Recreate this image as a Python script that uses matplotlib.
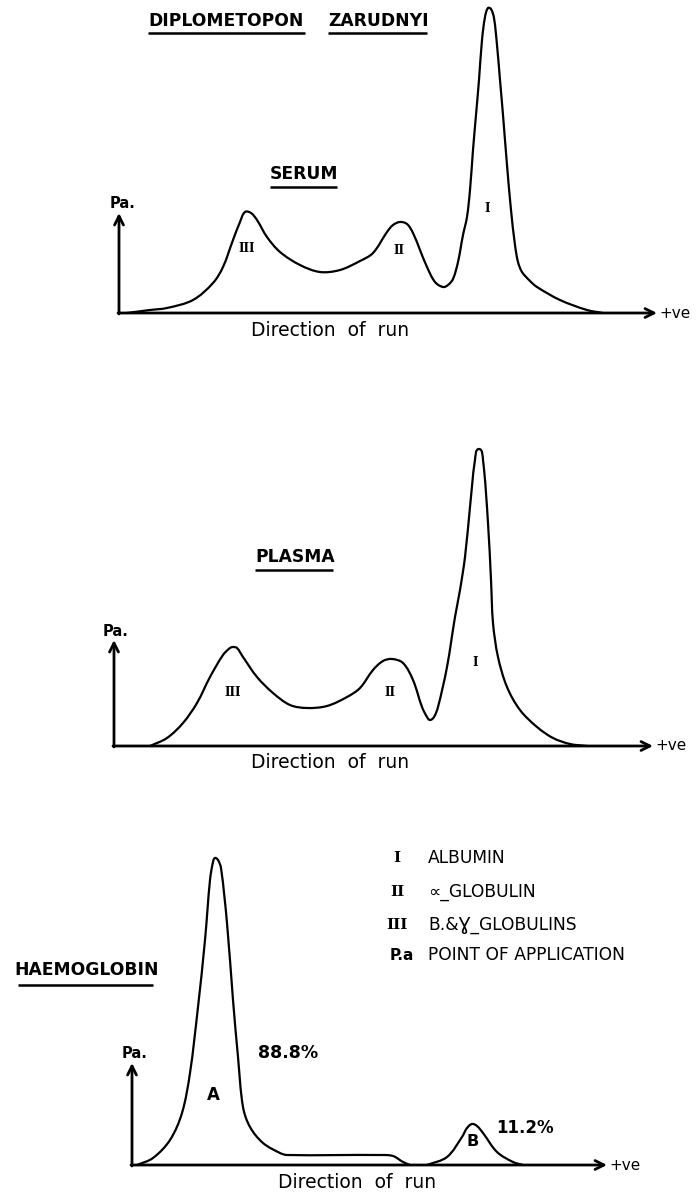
import numpy as np
import matplotlib.pyplot as plt
from matplotlib.path import Path
from matplotlib.patches import PathPatch

W, H = 698, 1194

# traces: migration distance from point of application, height above baseline
serum_x = [8, 31, 48, 74, 94, 104, 114, 121, 126, 132, 138, 148, 161, 181, 201,
           221, 241, 254, 268, 274, 281, 288, 294, 301, 308, 316, 324, 329, 334,
           339, 344, 348, 351, 354, 357, 360, 363, 366, 369, 372, 375, 378, 381,
           384, 388, 392, 396, 399, 403, 411, 418, 441, 468, 484]
serum_y = [0, 3, 5, 13, 30, 46, 73, 91, 101, 100, 93, 76, 61, 48, 41,
           43, 52, 60, 81, 88, 91, 89, 80, 63, 46, 31, 26, 28, 34,
           51, 78, 96, 123, 163, 198, 233, 273, 296, 305, 304, 295, 268, 233,
           198, 148, 103, 68, 51, 41, 32, 26, 13, 3, 0]

plasma_x = [36, 53, 69, 83, 96, 109, 116, 119, 123, 129, 143, 159, 176, 193, 213,
            233, 246, 259, 269, 278, 289, 299, 308, 313, 316, 320, 324, 333, 341,
            346, 351, 356, 361, 365, 369, 374, 377, 379, 384, 393, 406, 423, 439,
            456, 473]
plasma_y = [0, 8, 23, 43, 69, 91, 98, 99, 98, 89, 69, 53, 41, 38, 40,
            49, 58, 76, 85, 87, 83, 66, 39, 29, 26, 29, 39, 79, 129,
            156, 189, 239, 286, 297, 286, 223, 166, 123, 89, 59, 36, 19, 8,
            2, 0]

haem_a_x = [5, 21, 38, 50, 58, 66, 73, 78, 81, 83, 86, 89, 95, 101, 106, 111,
            118, 131, 148, 155, 248, 261, 271, 278]
haem_a_y = [0, 7, 25, 52, 92, 158, 225, 285, 303, 307, 305, 297, 242, 165, 108, 58,
            38, 22, 12, 10, 10, 9, 3, 0]
haem_b_x = [295, 315, 330, 335, 340, 345, 351, 365, 381, 391]
haem_b_y = [0, 8, 28, 37, 41, 39, 32, 13, 3, 0]

serum_labels = [("III", 128, 65), ("II", 280, 63), ("I", 368, 105)]
plasma_labels = [("III", 119, 54), ("II", 276, 54), ("I", 361, 83)]

legend_keys = ["I", "II", "III", "P.a"]
legend_text = ["ALBUMIN", "\u221d_GLOBULIN", "B.&\u0194_GLOBULINS", "POINT OF APPLICATION"]

plt.rcParams['font.family'] = ['DejaVu Sans']

fig = plt.figure(figsize=(W / 100, H / 100), dpi=100)

# page axes in picture pixels for titles and legend
ax0 = fig.add_axes([0, 0, 1, 1])
ax0.set_xlim(0, W)
ax0.set_ylim(H, 0)
ax0.axis('off')


def underline(x0, x1, y):
    ax0.plot([x0, x1], [y, y], color='black', lw=1.8, solid_capstyle='butt')


def panel(top, bottom, ox, oy):
    ax = fig.add_axes([0, 1 - bottom / H, 1, (bottom - top) / H])
    ax.set_xlim(-ox, W - ox)
    ax.set_ylim(oy - bottom, oy - top)
    ax.axis('off')
    return ax


def unit(v):
    n = np.hypot(*v)
    return v / n if n > 0 else v


def trace(ax, xs, ys):
    # smooth pen line through the read points, bezier handles a third of each segment
    p = np.column_stack([xs, ys]).astype(float)
    q = np.vstack([p[0], p, p[-1]])
    verts, codes = [p[0]], [Path.MOVETO]
    for i in range(len(p) - 1):
        p0, p1, p2, p3 = q[i], q[i + 1], q[i + 2], q[i + 3]
        d = np.hypot(*(p2 - p1)) / 3
        verts += [p1 + unit(p2 - p0) * d, p2 - unit(p3 - p1) * d, p2]
        codes += [Path.CURVE4] * 3
    ax.add_patch(PathPatch(Path(verts, codes), fill=False, lw=1.6,
                           edgecolor='black', capstyle='round', joinstyle='round'))


def frame(ax, length, height, run_x, pa_dx):
    arrow = dict(arrowstyle='->', lw=2, color='black', shrinkA=0, shrinkB=0,
                 mutation_scale=16)
    ax.annotate('', xy=(0, height), xytext=(0, -1), arrowprops=arrow)
    ax.annotate('', xy=(length, 0), xytext=(-1, 0), arrowprops=arrow)
    ax.text(length + 2, 0, '+ve', fontsize=11, va='center', ha='left')
    ax.text(pa_dx, height + 9, 'Pa.', fontsize=10.5, fontweight='bold',
            va='center', ha='left')
    ax.text(run_x, -17, 'Direction  of  run', fontsize=13.5, va='center', ha='center')


title_kw = dict(fontsize=12.3, fontweight='bold', va='center', ha='left')
roman_kw = dict(family='DejaVu Serif', fontweight='bold', fontsize=8.5,
                va='center', ha='center')

ax0.text(148, 21, 'DIPLOMETOPON', **title_kw)
underline(148, 305, 33)
ax0.text(328, 21, 'ZARUDNYI', **title_kw)
underline(328, 427, 33)

# serum
ax1 = panel(0, 345, 119, 313)
ax0.text(270, 174, 'SERUM', **title_kw)
underline(270, 337, 187)
frame(ax1, 538, 100, 211, -9)
trace(ax1, serum_x, serum_y)
for lab, lx, ly in serum_labels:
    ax1.text(lx, ly, lab, **roman_kw)

# plasma
ax2 = panel(345, 790, 114, 746)
ax0.text(255, 557, 'PLASMA', **title_kw)
underline(255, 333, 570)
frame(ax2, 539, 106, 216, -11)
trace(ax2, plasma_x, plasma_y)
for lab, lx, ly in plasma_labels:
    ax2.text(lx, ly, lab, **roman_kw)

# haemoglobin
ax3 = panel(790, 1194, 132, 1165)
ax0.text(14, 970, 'HAEMOGLOBIN', **title_kw)
underline(18, 153, 985)
frame(ax3, 475, 102, 225, -10)
trace(ax3, haem_a_x, haem_a_y)
trace(ax3, haem_b_x, haem_b_y)
ax3.text(81, 70, 'A', fontsize=12, fontweight='bold', va='center', ha='center')
ax3.text(341, 23, 'B', fontsize=11.5, fontweight='bold', va='center', ha='center')
ax3.text(156, 112, '88.8%', fontsize=12.5, fontweight='bold', va='center', ha='center')
ax3.text(393, 37, '11.2%', fontsize=12, fontweight='bold', va='center', ha='center')

# key
for i, (k, t) in enumerate(zip(legend_keys, legend_text)):
    y = [858, 892, 925, 955][i]
    if k == 'P.a':
        ax0.text(390, y, 'P.a', fontsize=11, fontweight='bold', va='center', ha='left')
    else:
        ax0.text(397, y, k, family='DejaVu Serif', fontweight='bold', fontsize=11,
                 va='center', ha='center')
    ax0.text(428, y, t, fontsize=12.3, va='center', ha='left')

fig.savefig('out.png', dpi=100)
